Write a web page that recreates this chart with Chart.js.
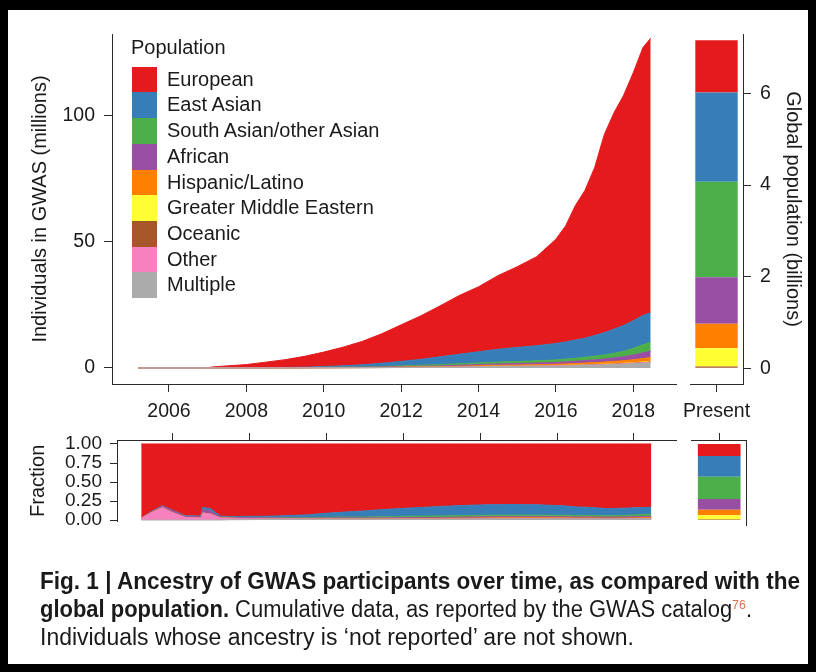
<!DOCTYPE html>
<html>
<head>
<meta charset="utf-8">
<script src="https://cdn.jsdelivr.net/npm/chart.js@4.4.1/dist/chart.umd.min.js"></script>
<style>
  html, body { margin: 0; padding: 0; background: #000; width: 816px; height: 672px; overflow: hidden; }
  #page { position: absolute; left: 8px; top: 10px; width: 800px; height: 654px; background: #fff; }
  canvas { position: absolute; left: 0; top: 0; }
  .lg { position: absolute; font-family: "Liberation Sans", Arial, sans-serif; font-size: 20px; color: #1a1a1a; white-space: nowrap; }
  .sw { position: absolute; width: 25px; }
  .cap { position: absolute; left: 40px; font-family: "Liberation Sans Narrow", "Liberation Sans", Arial, sans-serif; font-size: 23px; color: #1a1a1a; white-space: nowrap; transform-origin: 0 50%; line-height: 28px; }
  .cap b { font-weight: bold; }
  .cap sup { font-size: 13px; color: #e07050; vertical-align: 0; position: relative; top: -8px; }
</style>
</head>
<body>
<div id="page"></div>
<canvas id="cTop" width="816" height="672"></canvas>
<canvas id="cPresent" width="816" height="672"></canvas>
<canvas id="cFrac" width="816" height="672"></canvas>
<canvas id="cFracPresent" width="816" height="672"></canvas>
<div id="legend"></div>
<div class="cap" id="cap1" style="top:567px"><b>Fig. 1 | Ancestry of GWAS participants over time, as compared with the</b></div>
<div class="cap" id="cap2" style="top:595px"><b>global population.</b> Cumulative data, as reported by the GWAS catalog<sup>76</sup>.</div>
<div class="cap" id="cap3" style="top:623px">Individuals whose ancestry is ‘not reported’ are not shown.</div>
<script>
// ---------------- data ----------------
const years = [2005.2, 2005.5, 2005.75, 2006.0, 2006.35, 2006.75, 2006.8, 2007.0, 2007.25, 2007.5,
  2008.0, 2008.5, 2009.0, 2009.5, 2010.0, 2010.5, 2011.0, 2011.5, 2012.0, 2012.5,
  2013.0, 2013.5, 2014.0, 2014.5, 2015.0, 2015.5, 2016.0, 2016.25, 2016.5, 2016.75,
  2017.0, 2017.25, 2017.5, 2017.75, 2018.0, 2018.25, 2018.45];

// cumulative individuals in GWAS, millions
const european = [0.002, 0.005, 0.01, 0.022, 0.08, 0.1, 0.11, 0.15, 0.55, 0.8,
  1.3, 2.2, 3.1, 4.3, 5.75, 7.4, 9.3, 11.7, 14.5, 17.2,
  20.2, 23.3, 25.8, 29.2, 32.0, 35.3, 41.4, 46.0, 53.3, 58.6,
  66.6, 78.6, 85.8, 91.3, 98.4, 106.3, 108.9];
const eastAsian = [0, 0, 0, 0, 0.0004, 0.0005, 0.004, 0.005, 0.007, 0.01,
  0.025, 0.05, 0.09, 0.17, 0.32, 0.55, 0.85, 1.3, 1.8, 2.35,
  3.1, 3.8, 4.4, 5.1, 5.6, 6.0, 6.5, 6.8, 7.2, 7.6,
  8.2, 8.8, 9.6, 10.3, 11.0, 11.6, 11.8];
const southAsian = [0, 0, 0, 0, 0, 0, 0, 0, 0, 0,
  0, 0, 0.015, 0.025, 0.06, 0.09, 0.12, 0.2, 0.26, 0.38,
  0.48, 0.56, 0.63, 0.72, 0.8, 0.88, 1.0, 1.1, 1.2, 1.3,
  1.45, 1.6, 1.8, 2.1, 2.6, 3.2, 3.5];
const african = [0, 0.0001, 0.0003, 0.0008, 0.0015, 0.002, 0.006, 0.007, 0.008, 0.009,
  0.015, 0.025, 0.035, 0.05, 0.07, 0.09, 0.11, 0.14, 0.2, 0.25,
  0.3, 0.4, 0.48, 0.55, 0.6, 0.66, 0.75, 0.82, 0.9, 1.0,
  1.1, 1.25, 1.4, 1.6, 1.9, 2.3, 2.5];
const hispanic = [0, 0, 0, 0, 0, 0, 0, 0, 0, 0,
  0, 0, 0, 0, 0.02, 0.035, 0.05, 0.07, 0.13, 0.16,
  0.2, 0.28, 0.32, 0.36, 0.4, 0.44, 0.5, 0.55, 0.6, 0.66,
  0.72, 0.8, 0.9, 1.0, 1.15, 1.35, 1.5];
const middleEastern = [0, 0, 0, 0, 0, 0, 0, 0, 0, 0,
  0, 0, 0, 0, 0, 0, 0, 0.005, 0.01, 0.015,
  0.02, 0.03, 0.04, 0.05, 0.06, 0.07, 0.08, 0.09, 0.1, 0.11,
  0.12, 0.13, 0.14, 0.15, 0.17, 0.2, 0.22];
const oceanic = [0, 0, 0, 0, 0, 0, 0, 0, 0, 0,
  0, 0, 0, 0, 0, 0, 0, 0, 0.002, 0.004,
  0.006, 0.008, 0.01, 0.012, 0.014, 0.016, 0.02, 0.022, 0.025, 0.028,
  0.03, 0.035, 0.04, 0.045, 0.05, 0.06, 0.07];
const other = [0.00005, 0.0006, 0.002, 0.0025, 0.0028, 0.003, 0.012, 0.014, 0.015, 0.016,
  0.018, 0.02, 0.02, 0.022, 0.025, 0.03, 0.035, 0.04, 0.045, 0.05,
  0.06, 0.07, 0.08, 0.09, 0.1, 0.11, 0.12, 0.13, 0.14, 0.15,
  0.16, 0.17, 0.18, 0.19, 0.2, 0.22, 0.24];
const multiple = [0, 0, 0, 0, 0, 0, 0, 0, 0, 0.003,
  0.007, 0.02, 0.03, 0.045, 0.06, 0.08, 0.1, 0.13, 0.17, 0.21,
  0.25, 0.3, 0.45, 0.55, 0.6, 0.66, 0.75, 0.82, 0.9, 1.0,
  1.1, 1.2, 1.35, 1.5, 1.7, 1.9, 2.1];

const seriesNames = ['European', 'East Asian', 'South Asian/other Asian', 'African', 'Hispanic/Latino',
  'Greater Middle Eastern', 'Oceanic', 'Other', 'Multiple'];
const seriesColors = ['#E41A1C', '#377EB8', '#4DAF4A', '#984EA3', '#FF7F00',
  '#FFFF33', '#A65628', '#F781BF', '#ABABAB'];
// present-day global population, billions (same order as seriesNames)
const presentBillions = [1.14, 1.95, 2.08, 1.02, 0.53, 0.40, 0.04, 0, 0];

const presentLabels = ['Present'];
const yearTicks = [2006, 2008, 2010, 2012, 2014, 2016, 2018];
const countTicks = [0, 50, 100];
const billionTicks = [0, 2, 4, 6];
const fractionTicks = [0, 0.25, 0.5, 0.75, 1];

// ---------------- derived ----------------
const series = [european, eastAsian, southAsian, african, hispanic, middleEastern, oceanic, other, multiple];
const stackOrder = [8, 7, 6, 5, 4, 3, 2, 1, 0]; // bottom (Multiple) to top (European)
const totals = years.map((_, i) => series.reduce((s, a) => s + a[i], 0));
const presentTotal = presentBillions.reduce((s, v) => s + v, 0);

const FONT = '"Liberation Sans", Arial, sans-serif';
const AX = '#2a2a2a';
const TXT = '#1a1a1a';
Chart.defaults.font.family = FONT;
Chart.defaults.color = TXT;

function fixedTicks(vals) { return function (scale) { scale.ticks = vals.map(v => ({ value: v })); }; }
const common = {
  responsive: false, animation: false, devicePixelRatio: 1,
  plugins: { legend: { display: false }, tooltip: { enabled: false } },
  elements: { point: { radius: 0 }, line: { tension: 0 } }
};
function gridOpts(len, draw) {
  return { drawOnChartArea: false, drawTicks: draw !== false, tickLength: len, color: AX, lineWidth: 1 };
}
const borderOpts = { display: true, color: AX, width: 1 };

// ---------------- top-left: cumulative individuals ----------------
new Chart(document.getElementById('cTop'), {
  type: 'line',
  data: {
    datasets: stackOrder.map((k, j) => ({
      label: seriesNames[k],
      data: years.map((x, i) => ({ x: x, y: series[k][i] })),
      backgroundColor: seriesColors[k], borderColor: seriesColors[k], borderWidth: 1,
      pointRadius: 0, fill: j === 0 ? 'origin' : '-1'
    }))
  },
  options: Object.assign({}, common, {
    layout: { padding: { left: 0, top: 34, right: 140, bottom: 672 - 384 - 60 } },
    scales: {
      x: {
        type: 'linear', min: 2004.527, max: 2019.104,
        afterBuildTicks: fixedTicks(yearTicks), afterFit: s => { s.height = 60; },
        grid: gridOpts(8), border: borderOpts,
        ticks: { callback: v => String(v), padding: 8, font: { size: 19.5 }, color: TXT, maxRotation: 0, autoSkip: false }
      },
      y: {
        type: 'linear', stacked: true, min: -6.35, max: 132.5,
        afterBuildTicks: fixedTicks(countTicks), afterFit: s => { s.width = 112; },
        grid: gridOpts(8), border: borderOpts,
        ticks: { callback: v => String(v), padding: 9, font: { size: 19.5 }, color: TXT, autoSkip: false },
        title: { display: true, text: 'Individuals in GWAS (millions)', font: { size: 20 }, color: TXT, padding: { top: 28, bottom: 0 } }
      }
    }
  })
});

// ---------------- top-right: present global population ----------------
new Chart(document.getElementById('cPresent'), {
  type: 'bar',
  data: {
    labels: presentLabels,
    datasets: stackOrder.map(k => ({
      label: seriesNames[k], data: [presentBillions[k]],
      backgroundColor: seriesColors[k], borderWidth: 0, barPercentage: 0.8, categoryPercentage: 1
    }))
  },
  options: Object.assign({}, common, {
    layout: { padding: { left: 690, top: 34, right: 0, bottom: 672 - 384 - 60 } },
    scales: {
      x: {
        stacked: true, afterFit: s => { s.height = 60; },
        grid: Object.assign(gridOpts(8), { offset: false }), border: borderOpts,
        ticks: { padding: 8, font: { size: 19.5 }, color: TXT, maxRotation: 0, autoSkip: false }
      },
      y: {
        position: 'right', stacked: true, min: -0.342, max: 7.295,
        afterBuildTicks: fixedTicks(billionTicks), afterFit: s => { s.width = 73; },
        grid: gridOpts(8), border: borderOpts,
        ticks: { callback: v => String(v), padding: 9, font: { size: 19.5 }, color: TXT, autoSkip: false },
        title: { display: true, text: 'Global population (billions)', font: { size: 20 }, color: TXT, padding: { top: 11, bottom: 0 } }
      }
    }
  })
});

// ---------------- bottom-left: fraction over time ----------------
new Chart(document.getElementById('cFrac'), {
  type: 'line',
  data: {
    datasets: stackOrder.map((k, j) => ({
      label: seriesNames[k],
      data: years.map((x, i) => ({ x: x, y: series[k][i] / totals[i] })),
      backgroundColor: seriesColors[k], borderColor: seriesColors[k], borderWidth: 1,
      pointRadius: 0, fill: j === 0 ? 'origin' : '-1'
    }))
  },
  options: Object.assign({}, common, {
    layout: { padding: { left: 0, top: 420, right: 140, bottom: 672 - 521.7 } },
    scales: {
      x: {
        type: 'linear', position: 'top', min: 2004.571, max: 2019.091,
        afterBuildTicks: fixedTicks(yearTicks), afterFit: s => { s.height = 20; },
        grid: gridOpts(7), border: borderOpts,
        ticks: { display: false, autoSkip: false }
      },
      y: {
        type: 'linear', stacked: true, min: -0.022, max: 1.0526,
        afterBuildTicks: fixedTicks(fractionTicks), afterFit: s => { s.width = 117; },
        grid: gridOpts(7), border: borderOpts,
        ticks: { callback: v => v.toFixed(2), padding: 8, font: { size: 19, lineHeight: 0.95 }, color: TXT, autoSkip: false },
        title: { display: true, text: 'Fraction', font: { size: 20 }, color: TXT, padding: { top: 26, bottom: 0 } }
      }
    }
  })
});

// ---------------- bottom-right: present fraction ----------------
new Chart(document.getElementById('cFracPresent'), {
  type: 'bar',
  data: {
    labels: presentLabels,
    datasets: stackOrder.map(k => ({
      label: seriesNames[k], data: [presentBillions[k] / presentTotal],
      backgroundColor: seriesColors[k], borderWidth: 0, barPercentage: 0.776, categoryPercentage: 1
    }))
  },
  options: Object.assign({}, common, {
    layout: { padding: { left: 691.7, top: 420, right: 0, bottom: 672 - 525 } },
    scales: {
      x: {
        position: 'top', stacked: true, afterFit: s => { s.height = 20; },
        grid: Object.assign(gridOpts(7), { offset: false }), border: borderOpts,
        ticks: { display: false, autoSkip: false }
      },
      y: {
        position: 'right', stacked: true, min: -0.0658, max: 1.0526,
        afterFit: s => { s.width = 816 - 746.7; },
        grid: gridOpts(0, false), border: borderOpts,
        ticks: { display: false }
      }
    }
  })
});

// ---------------- legend (HTML text) ----------------
(function () {
  const lg = document.getElementById('legend');
  const t = document.createElement('div');
  t.className = 'lg'; t.textContent = 'Population';
  t.style.left = '131px'; t.style.top = '35px'; t.style.lineHeight = '24px';
  lg.appendChild(t);
  const top0 = 66.7, rowH = 25.7;
  seriesNames.forEach((name, i) => {
    const sw = document.createElement('div');
    sw.className = 'sw';
    sw.style.left = '132px'; sw.style.top = (top0 + i * rowH) + 'px';
    sw.style.height = (rowH + 0.5) + 'px'; sw.style.background = seriesColors[i];
    lg.appendChild(sw);
    const tx = document.createElement('div');
    tx.className = 'lg'; tx.textContent = name;
    tx.style.left = '167px'; tx.style.top = (top0 + i * rowH) + 'px';
    tx.style.lineHeight = rowH + 'px';
    lg.appendChild(tx);
  });
})();

// ---------------- caption widths ----------------
[['cap1', 760], ['cap2', 712], ['cap3', 594]].forEach(([id, w]) => {
  const el = document.getElementById(id);
  const cur = el.getBoundingClientRect().width;
  el.style.transform = 'scaleX(' + (w / cur) + ')';
});
</script>
</body>
</html>
